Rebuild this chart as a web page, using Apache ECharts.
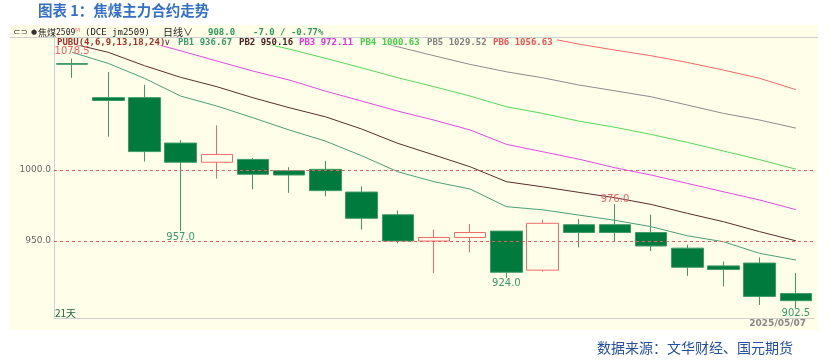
<!DOCTYPE html>
<html>
<head>
<meta charset="utf-8">
<script src="https://cdn.jsdelivr.net/npm/echarts@6/dist/echarts.min.js"></script>
<style>
html,body{margin:0;padding:0;background:#fff;}
#c{width:831px;height:362px;}
</style>
</head>
<body>
<div id="c"></div>
<script>
// ---- data ----
const dates = ['2025/04/03','2025/04/07','2025/04/08','2025/04/09','2025/04/10','2025/04/11','2025/04/14',
  '2025/04/15','2025/04/16','2025/04/17','2025/04/18','2025/04/21','2025/04/22','2025/04/23',
  '2025/04/24','2025/04/25','2025/04/28','2025/04/29','2025/04/30','2025/05/06','2025/05/07'];
const opens  = [1075, 1051, 1051, 1019, 1005.5, 1007.5, 999.5, 1000.5, 984.5, 968.5, 950, 952.5, 957, 929.5, 961.5, 961.5, 956, 945, 932.5, 934.5, 913];
const closes = [1074.5, 1049, 1013, 1005.5, 1011, 997, 996.5, 985.5, 966, 950, 952.5, 956, 928, 962.5, 956, 956, 946.5, 931.5, 930, 911, 908];
const lows   = [1065, 1023.5, 1006, 957, 994, 986.5, 984, 981.5, 958, 948.5, 927.5, 942, 924, 928.5, 945.5, 949.5, 943, 925.5, 918, 905, 902.5];
const highs  = [1078.5, 1069, 1060, 1021, 1031.5, 1008.5, 1002, 1006.5, 988.5, 971.5, 958, 962, 957, 965, 965.5, 976, 968.5, 947.5, 935.5, 938.5, 927.5];

const pb1 = [1082.9, 1075.1, 1064.6, 1052.1, 1045.1, 1036.8, 1028.2, 1020.4, 1010.1, 998.8, 991.8, 986.6, 974.2, 972.0, 968.3, 964.6, 960.1, 953.7, 949.5, 941.3, 936.67];
const pb2 = [1089, 1082.9, 1073.5, 1065.3, 1058.7, 1050.9, 1043.9, 1037.5, 1028.9, 1018.8, 1010.6, 1002.3, 991.8, 988.2, 984.3, 980.5, 975.8, 969.5, 963.6, 956.6, 950.16];
const pb3 = [1105, 1098, 1090.8, 1084.0, 1076.8, 1069.7, 1063.4, 1055.6, 1048.6, 1041.5, 1035.2, 1028.2, 1018.1, 1012.9, 1007.7, 1001.6, 996.5, 990.6, 984.7, 978.9, 972.11];
const pb4 = [1126, 1119, 1112, 1105, 1098, 1091, 1085.2, 1078.7, 1072.0, 1065.0, 1058.7, 1052.1, 1044.6, 1039.9, 1034.5, 1030.1, 1025.1, 1019.5, 1013.4, 1007.3, 1000.63];
const pb5 = [1141, 1135, 1129, 1123, 1117, 1111, 1105, 1099, 1093, 1086.8, 1080.5, 1074.4, 1069.2, 1065.0, 1059.9, 1055.8, 1051.6, 1045.8, 1039.9, 1035.2, 1029.52];
const pb6 = [1170, 1163, 1157, 1150, 1144, 1138, 1132, 1126, 1120, 1115, 1109, 1104, 1099, 1093.7, 1088.7, 1084.5, 1080.5, 1075.8, 1070.4, 1064.6, 1056.63];

const yTicks = [950, 1000];
const highMarkIdx = [0, 15];
const lowMarkIdx = [3, 12, 20];

const titleText = '图表 1：焦煤主力合约走势';
const sourceText = '数据来源：文华财经、国元期货';
const changeText = '-7.0 / -0.77%';
const pubuText = 'PUBU(4,6,9,13,18,24)';
const dayCountText = '21天';

// ---- styling ----
const BG = '#FEFEE9';
const UP = '#F06A6A';
const DOWN = '#007A3D';
const DOWN_BORDER = '#3E9A68';
const pbNames = ['PB1','PB2','PB3','PB4','PB5','PB6'];
const pbData = [pb1,pb2,pb3,pb4,pb5,pb6];
const pbLineColors = ['#4CA078','#5A2E2E','#E448E4','#58D858','#8C8C8C','#F06868'];
const pbTextColors = ['#3A9A6A','#4A2020','#E030E0','#44CC44','#808080','#F05050'];
const pbTextX = [178, 239, 299, 360, 427, 493];
const MONO = "'DejaVu Sans Mono','Noto Sans CJK SC',monospace";
const R1 = 32.5, R2 = 42.5;

const chart = echarts.init(document.getElementById('c'), null, {renderer:'canvas'});

const candleData = opens.map((o,i)=>[o, closes[i], lows[i], highs[i]]);

const markPts = [];
highMarkIdx.forEach(i=>markPts.push({coord:[i, highs[i]], value: highs[i],
  label:{position:'top', distance: i===0?2:0, color:'#F06060'}}));
lowMarkIdx.forEach(i=>markPts.push({coord:[i, lows[i]], value: lows[i],
  label:{position:'bottom', distance: i===3?1:0, color:'#3A9A6A'}}));

const lineSeries = pbData.map((d,k)=>({
  type:'line', name: pbNames[k], data: d, symbol:'none', showSymbol:false,
  lineStyle:{color: pbLineColors[k], width:1}, itemStyle:{color: pbLineColors[k]},
  z:3, silent:true, clip:true
}));

function hdr(x, y, text, color, font) {
  return {type:'text', z:60, style:{x:x, y:y, text:text, fill:color, font:font, textVerticalAlign:'middle', verticalAlign:'middle'}};
}

const graphics = [
  {type:'rect', z:-10, shape:{x:10,y:25,width:808,height:305}, style:{fill:BG}},
  {type:'line', z:55, shape:{x1:10,y1:37.5,x2:818,y2:37.5}, style:{stroke:'#D0D0D0',lineWidth:1}},
  // cover of header row over lines
  {type:'rect', z:50, shape:{x:55,y:38,width:502,height:7.5}, style:{fill:BG}},
  {type:'text', z:60, left:38, top:3, style:{text:titleText, fill:'#3470C8', font:"bold 14.5px 'Noto Sans CJK SC'"}},
  {type:'text', z:60, left:597, top:341, style:{text:sourceText, fill:'#24509E', font:"14px 'Noto Sans CJK SC'"}},
  // header row 1
  hdr(13, R1, '⊂⊃', '#555', "9px 'DejaVu Sans'"),
  hdr(31, R1, '●', '#333', "7px 'DejaVu Sans'"),
  hdr(38, R1, '焦煤', '#222', "9px 'Noto Sans CJK SC'"),
  hdr(56, R1, '2509', '#222', "8px "+MONO),
  hdr(75, R1-2, 'M', '#F08080', "6px 'DejaVu Sans'"),
  hdr(85, R1, '(DCE jm2509)', '#222', "9px "+MONO),
  hdr(163, R1, '日线∨', '#222', "10px 'Noto Sans CJK SC'"),
  hdr(208, R1, closes[closes.length-1].toFixed(1), '#2E9A5A', "bold 9px "+MONO),
  hdr(253, R1, changeText, '#2E9A5A', "bold 9px "+MONO),
  // header row 2
  hdr(57, R2, pubuText, '#A0302A', "bold 9px "+MONO),
  hdr(164, R2, '∨', '#444', "9px 'DejaVu Sans'"),
  {type:'text', z:60, left:55, top:308, style:{text:dayCountText, fill:'#1E6B3A', font:"10px 'Noto Sans CJK SC'"}},
  {type:'text', z:60, style:{x:806, y:324, text:dates[dates.length-1], fill:'#888', font:"bold 9px 'DejaVu Sans'", align:'right', textAlign:'right', verticalAlign:'middle', textVerticalAlign:'middle'}}
];
pbData.forEach((d,k)=>{
  graphics.push(hdr(pbTextX[k], R2, pbNames[k]+' '+d[d.length-1].toFixed(2), pbTextColors[k], "bold 9px "+MONO));
});

const option = {
  backgroundColor:'#ffffff',
  animation:false,
  grid:{left:54, right:17, top:38, bottom:44, containLabel:false},
  xAxis:{type:'category', data:dates, boundaryGap:true,
    axisLine:{show:true, lineStyle:{color:'#D0D0D0'}}, axisTick:{show:false}, axisLabel:{show:false}, splitLine:{show:false}},
  yAxis:{type:'value', min:895.8, max:1093, scale:true,
    axisLine:{show:true, lineStyle:{color:'#D0D0D0'}}, axisTick:{show:false}, axisLabel:{show:false}, splitLine:{show:false}},
  series:[
    {type:'candlestick', data:candleData, barWidth:32, z:2,
      itemStyle:{color:BG, color0:DOWN, borderColor:UP, borderColor0:DOWN_BORDER, borderWidth:1},
      markLine:{silent:true, symbol:['none','none'], animation:false,
        lineStyle:{color:'#E06060', type:[3,3], width:1},
        label:{position:'start', distance:3, color:'#666', fontSize:9, fontFamily:'DejaVu Sans',
          formatter:p=>Number(p.value).toFixed(1)},
        data: yTicks.map(v=>({yAxis:v}))},
      markPoint:{symbol:'circle', symbolSize:0, animation:false, silent:true,
        label:{show:true, fontSize:10, fontFamily:'DejaVu Sans', formatter:p=>Number(p.value).toFixed(1)},
        data: markPts}
    },
    ...lineSeries
  ],
  graphic: graphics
};
chart.setOption(option);
</script>
</body>
</html>
